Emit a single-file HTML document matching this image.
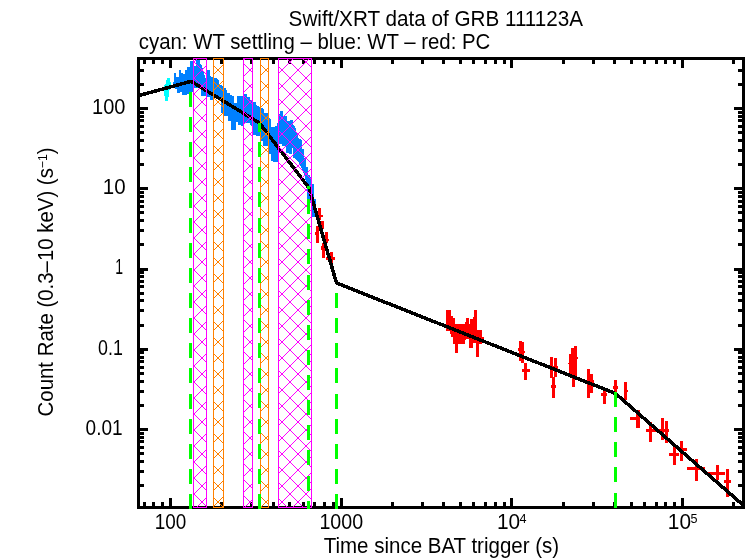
<!DOCTYPE html><html><head><meta charset="utf-8"><style>html,body{margin:0;padding:0;background:#fff;}svg{display:block;will-change:transform;}text{font-family:"Liberation Sans",sans-serif;fill:#000;}</style></head><body>
<svg width="746" height="558" viewBox="0 0 746 558">
<defs>
<pattern id="hm" patternUnits="userSpaceOnUse" x="0" y="0" width="16" height="16"><g fill="#ff00ff" shape-rendering="crispEdges">
<rect x="0" y="12" width="1" height="1"/>
<rect x="0" y="15" width="1" height="1"/>
<rect x="1" y="13" width="1" height="1"/>
<rect x="1" y="14" width="1" height="1"/>
<rect x="2" y="13" width="1" height="1"/>
<rect x="2" y="14" width="1" height="1"/>
<rect x="3" y="12" width="1" height="1"/>
<rect x="3" y="15" width="1" height="1"/>
<rect x="4" y="0" width="1" height="1"/>
<rect x="4" y="11" width="1" height="1"/>
<rect x="5" y="1" width="1" height="1"/>
<rect x="5" y="10" width="1" height="1"/>
<rect x="6" y="2" width="1" height="1"/>
<rect x="6" y="9" width="1" height="1"/>
<rect x="7" y="3" width="1" height="1"/>
<rect x="7" y="8" width="1" height="1"/>
<rect x="8" y="4" width="1" height="1"/>
<rect x="8" y="7" width="1" height="1"/>
<rect x="9" y="5" width="1" height="1"/>
<rect x="9" y="6" width="1" height="1"/>
<rect x="10" y="5" width="1" height="1"/>
<rect x="10" y="6" width="1" height="1"/>
<rect x="11" y="4" width="1" height="1"/>
<rect x="11" y="7" width="1" height="1"/>
<rect x="12" y="3" width="1" height="1"/>
<rect x="12" y="8" width="1" height="1"/>
<rect x="13" y="2" width="1" height="1"/>
<rect x="13" y="9" width="1" height="1"/>
<rect x="14" y="1" width="1" height="1"/>
<rect x="14" y="10" width="1" height="1"/>
<rect x="15" y="0" width="1" height="1"/>
<rect x="15" y="11" width="1" height="1"/>
</g></pattern>
<pattern id="ho" patternUnits="userSpaceOnUse" x="0" y="0" width="16" height="16"><g fill="#ff8000" shape-rendering="crispEdges">
<rect x="0" y="12" width="1" height="1"/>
<rect x="0" y="15" width="1" height="1"/>
<rect x="1" y="13" width="1" height="1"/>
<rect x="1" y="14" width="1" height="1"/>
<rect x="2" y="13" width="1" height="1"/>
<rect x="2" y="14" width="1" height="1"/>
<rect x="3" y="12" width="1" height="1"/>
<rect x="3" y="15" width="1" height="1"/>
<rect x="4" y="0" width="1" height="1"/>
<rect x="4" y="11" width="1" height="1"/>
<rect x="5" y="1" width="1" height="1"/>
<rect x="5" y="10" width="1" height="1"/>
<rect x="6" y="2" width="1" height="1"/>
<rect x="6" y="9" width="1" height="1"/>
<rect x="7" y="3" width="1" height="1"/>
<rect x="7" y="8" width="1" height="1"/>
<rect x="8" y="4" width="1" height="1"/>
<rect x="8" y="7" width="1" height="1"/>
<rect x="9" y="5" width="1" height="1"/>
<rect x="9" y="6" width="1" height="1"/>
<rect x="10" y="5" width="1" height="1"/>
<rect x="10" y="6" width="1" height="1"/>
<rect x="11" y="4" width="1" height="1"/>
<rect x="11" y="7" width="1" height="1"/>
<rect x="12" y="3" width="1" height="1"/>
<rect x="12" y="8" width="1" height="1"/>
<rect x="13" y="2" width="1" height="1"/>
<rect x="13" y="9" width="1" height="1"/>
<rect x="14" y="1" width="1" height="1"/>
<rect x="14" y="10" width="1" height="1"/>
<rect x="15" y="0" width="1" height="1"/>
<rect x="15" y="11" width="1" height="1"/>
</g></pattern>
</defs>
<rect width="746" height="558" fill="#fff"/>
<g shape-rendering="crispEdges" fill="#000">
<rect x="137" y="57" width="608" height="3"/>
<rect x="137" y="506" width="608" height="3"/>
<rect x="137" y="57" width="3" height="452"/>
<rect x="742" y="57" width="3" height="452"/>
<rect x="143" y="502" width="3" height="4"/>
<rect x="143" y="60" width="3" height="4"/>
<rect x="152" y="502" width="3" height="4"/>
<rect x="152" y="60" width="3" height="4"/>
<rect x="161" y="502" width="3" height="4"/>
<rect x="161" y="60" width="3" height="4"/>
<rect x="169" y="498" width="3" height="8"/>
<rect x="169" y="60" width="3" height="8"/>
<rect x="220" y="502" width="3" height="4"/>
<rect x="220" y="60" width="3" height="4"/>
<rect x="250" y="502" width="3" height="4"/>
<rect x="250" y="60" width="3" height="4"/>
<rect x="272" y="502" width="3" height="4"/>
<rect x="272" y="60" width="3" height="4"/>
<rect x="288" y="502" width="3" height="4"/>
<rect x="288" y="60" width="3" height="4"/>
<rect x="302" y="502" width="3" height="4"/>
<rect x="302" y="60" width="3" height="4"/>
<rect x="313" y="502" width="3" height="4"/>
<rect x="313" y="60" width="3" height="4"/>
<rect x="323" y="502" width="3" height="4"/>
<rect x="323" y="60" width="3" height="4"/>
<rect x="332" y="502" width="3" height="4"/>
<rect x="332" y="60" width="3" height="4"/>
<rect x="340" y="498" width="3" height="8"/>
<rect x="340" y="60" width="3" height="8"/>
<rect x="391" y="502" width="3" height="4"/>
<rect x="391" y="60" width="3" height="4"/>
<rect x="421" y="502" width="3" height="4"/>
<rect x="421" y="60" width="3" height="4"/>
<rect x="442" y="502" width="3" height="4"/>
<rect x="442" y="60" width="3" height="4"/>
<rect x="459" y="502" width="3" height="4"/>
<rect x="459" y="60" width="3" height="4"/>
<rect x="472" y="502" width="3" height="4"/>
<rect x="472" y="60" width="3" height="4"/>
<rect x="484" y="502" width="3" height="4"/>
<rect x="484" y="60" width="3" height="4"/>
<rect x="494" y="502" width="3" height="4"/>
<rect x="494" y="60" width="3" height="4"/>
<rect x="503" y="502" width="3" height="4"/>
<rect x="503" y="60" width="3" height="4"/>
<rect x="510" y="498" width="3" height="8"/>
<rect x="510" y="60" width="3" height="8"/>
<rect x="562" y="502" width="3" height="4"/>
<rect x="562" y="60" width="3" height="4"/>
<rect x="592" y="502" width="3" height="4"/>
<rect x="592" y="60" width="3" height="4"/>
<rect x="613" y="502" width="3" height="4"/>
<rect x="613" y="60" width="3" height="4"/>
<rect x="630" y="502" width="3" height="4"/>
<rect x="630" y="60" width="3" height="4"/>
<rect x="643" y="502" width="3" height="4"/>
<rect x="643" y="60" width="3" height="4"/>
<rect x="655" y="502" width="3" height="4"/>
<rect x="655" y="60" width="3" height="4"/>
<rect x="664" y="502" width="3" height="4"/>
<rect x="664" y="60" width="3" height="4"/>
<rect x="673" y="502" width="3" height="4"/>
<rect x="673" y="60" width="3" height="4"/>
<rect x="681" y="498" width="3" height="8"/>
<rect x="681" y="60" width="3" height="8"/>
<rect x="732" y="502" width="3" height="4"/>
<rect x="732" y="60" width="3" height="4"/>
<rect x="140" y="484" width="4" height="3"/>
<rect x="738" y="484" width="4" height="3"/>
<rect x="140" y="470" width="4" height="3"/>
<rect x="738" y="470" width="4" height="3"/>
<rect x="140" y="460" width="4" height="3"/>
<rect x="738" y="460" width="4" height="3"/>
<rect x="140" y="452" width="4" height="3"/>
<rect x="738" y="452" width="4" height="3"/>
<rect x="140" y="446" width="4" height="3"/>
<rect x="738" y="446" width="4" height="3"/>
<rect x="140" y="440" width="4" height="3"/>
<rect x="738" y="440" width="4" height="3"/>
<rect x="140" y="436" width="4" height="3"/>
<rect x="738" y="436" width="4" height="3"/>
<rect x="140" y="432" width="4" height="3"/>
<rect x="738" y="432" width="4" height="3"/>
<rect x="140" y="428" width="8" height="3"/>
<rect x="734" y="428" width="8" height="3"/>
<rect x="140" y="404" width="4" height="3"/>
<rect x="738" y="404" width="4" height="3"/>
<rect x="140" y="390" width="4" height="3"/>
<rect x="738" y="390" width="4" height="3"/>
<rect x="140" y="380" width="4" height="3"/>
<rect x="738" y="380" width="4" height="3"/>
<rect x="140" y="372" width="4" height="3"/>
<rect x="738" y="372" width="4" height="3"/>
<rect x="140" y="366" width="4" height="3"/>
<rect x="738" y="366" width="4" height="3"/>
<rect x="140" y="360" width="4" height="3"/>
<rect x="738" y="360" width="4" height="3"/>
<rect x="140" y="356" width="4" height="3"/>
<rect x="738" y="356" width="4" height="3"/>
<rect x="140" y="351" width="4" height="3"/>
<rect x="738" y="351" width="4" height="3"/>
<rect x="140" y="348" width="8" height="3"/>
<rect x="734" y="348" width="8" height="3"/>
<rect x="140" y="324" width="4" height="3"/>
<rect x="738" y="324" width="4" height="3"/>
<rect x="140" y="309" width="4" height="3"/>
<rect x="738" y="309" width="4" height="3"/>
<rect x="140" y="299" width="4" height="3"/>
<rect x="738" y="299" width="4" height="3"/>
<rect x="140" y="292" width="4" height="3"/>
<rect x="738" y="292" width="4" height="3"/>
<rect x="140" y="285" width="4" height="3"/>
<rect x="738" y="285" width="4" height="3"/>
<rect x="140" y="280" width="4" height="3"/>
<rect x="738" y="280" width="4" height="3"/>
<rect x="140" y="275" width="4" height="3"/>
<rect x="738" y="275" width="4" height="3"/>
<rect x="140" y="271" width="4" height="3"/>
<rect x="738" y="271" width="4" height="3"/>
<rect x="140" y="268" width="8" height="3"/>
<rect x="734" y="268" width="8" height="3"/>
<rect x="140" y="243" width="4" height="3"/>
<rect x="738" y="243" width="4" height="3"/>
<rect x="140" y="229" width="4" height="3"/>
<rect x="738" y="229" width="4" height="3"/>
<rect x="140" y="219" width="4" height="3"/>
<rect x="738" y="219" width="4" height="3"/>
<rect x="140" y="211" width="4" height="3"/>
<rect x="738" y="211" width="4" height="3"/>
<rect x="140" y="205" width="4" height="3"/>
<rect x="738" y="205" width="4" height="3"/>
<rect x="140" y="200" width="4" height="3"/>
<rect x="738" y="200" width="4" height="3"/>
<rect x="140" y="195" width="4" height="3"/>
<rect x="738" y="195" width="4" height="3"/>
<rect x="140" y="191" width="4" height="3"/>
<rect x="738" y="191" width="4" height="3"/>
<rect x="140" y="187" width="8" height="3"/>
<rect x="734" y="187" width="8" height="3"/>
<rect x="140" y="163" width="4" height="3"/>
<rect x="738" y="163" width="4" height="3"/>
<rect x="140" y="149" width="4" height="3"/>
<rect x="738" y="149" width="4" height="3"/>
<rect x="140" y="139" width="4" height="3"/>
<rect x="738" y="139" width="4" height="3"/>
<rect x="140" y="131" width="4" height="3"/>
<rect x="738" y="131" width="4" height="3"/>
<rect x="140" y="125" width="4" height="3"/>
<rect x="738" y="125" width="4" height="3"/>
<rect x="140" y="119" width="4" height="3"/>
<rect x="738" y="119" width="4" height="3"/>
<rect x="140" y="115" width="4" height="3"/>
<rect x="738" y="115" width="4" height="3"/>
<rect x="140" y="111" width="4" height="3"/>
<rect x="738" y="111" width="4" height="3"/>
<rect x="140" y="107" width="8" height="3"/>
<rect x="734" y="107" width="8" height="3"/>
<rect x="140" y="83" width="4" height="3"/>
<rect x="738" y="83" width="4" height="3"/>
<rect x="140" y="69" width="4" height="3"/>
<rect x="738" y="69" width="4" height="3"/>
</g>
<polygon fill="#0080ff" shape-rendering="crispEdges" points="173.2,84 173.2,82 174,82 174,73 176.3,73 176.3,77 179,77 179,70.2 181.4,70.2 181.4,72.6 183,72.6 183,74.1 184.6,74.1 184.6,70 187,70 187,67 190.3,67 190.3,61.2 194,61.2 194,66 196,66 196,60 200.3,60 200.3,64 201.9,65.7 205.7,78.6 206.7,79.9 207,70.2 210,70.2 210,76 212.3,77.2 216.3,78 219.2,80 219.2,84.5 222.7,85.8 222.7,88 225.5,88 225.5,90 227,90 227,93 230,93 230,94.5 233.5,96.5 233.5,103 236.5,103 236.5,96 242.5,96 242.5,93.5 247,93.5 247,97 250,97 250,100 253,100 253,102 256,102 256,105 260.6,107.3 264,109.3 264,112.5 268,113 268,116 271.2,120 271.2,127 274.5,127 274.5,125.5 277.2,125.5 277.2,122.5 278,122.5 280,110.8 282.7,110.8 282.7,115.5 286.8,116 286.8,121 290,121 290,119.5 292.8,119.5 292.8,123.5 295.5,127.5 295.5,133 298.2,133 298.2,138 301.6,140 302.3,148.8 303.8,149 303.8,157.6 306,157.6 306,166.5 308.2,166.5 308.2,175.3 310.4,175.3 311,184 314,184 314,198.8 316.3,198.8 316.3,217.2 311,217.2 310.4,200 306.7,198.8 306.7,184 303,171 298.2,161 292.5,157 292.5,148.4 291.5,148.4 291.5,153.8 286,153 286,145.7 282,145.7 282,144.4 278,144.4 278,162.3 275.2,162.3 271.2,161 271.2,154.4 268,154.4 268,146.4 262.6,146.4 262.6,141 260,141 260,135.8 256,135.8 256,134.5 252.7,134.5 252.7,128 250,124 249.6,123 243,123 243,126 241,126 241,125 238,125 238,122 236,122 236,130 231,130 231,121 228,121 228,116 222.7,115.6 222.7,113 221,113 221,100 213.5,96 213.5,99.6 210,99.6 210,96.7 206.5,96.7 206.5,96 200.9,96 200.9,88.5 196.7,88.3 193,88.3 193,92 189.3,92 189.3,93.9 187,93.9 187,95.4 182.2,95.4 182.2,91.5 180.3,91.5 180.3,93.1 177.1,93.1 177.1,89.1 174.7,89.1 174.7,84"/>
<polygon fill="#00ffff" shape-rendering="crispEdges" points="167,78 170,78 170,82 171,82 171,88 169,91 169,97 168,97 168,101 165,101 165,96 164,96 164,85 165,85 165,84 166,84 166,80 167,80"/>
<g fill="#ff0000" shape-rendering="crispEdges">
<rect x="318.0" y="208.0" width="3.0" height="12.0"/>
<rect x="321.0" y="215.0" width="2.0" height="2.0"/>
<rect x="321.0" y="220.7" width="3.0" height="8.3"/>
<rect x="316.0" y="226.0" width="3.0" height="17.0"/>
<rect x="315.0" y="232.0" width="4.4" height="3.0"/>
<rect x="325.0" y="232.0" width="3.0" height="11.3"/>
<rect x="324.8" y="239.0" width="4.2" height="2.4"/>
<rect x="322.0" y="242.7" width="3.0" height="15.0"/>
<rect x="321.0" y="246.4" width="4.0" height="3.2"/>
<rect x="329.5" y="252.0" width="3.0" height="14.5"/>
<rect x="326.3" y="257.0" width="8.7" height="3.0"/>
<rect x="446.0" y="310.0" width="5.0" height="20.6"/>
<rect x="447.9" y="309.9" width="2.9" height="6.1"/>
<rect x="450.8" y="315.8" width="2.0" height="20.8"/>
<rect x="452.8" y="317.8" width="2.5" height="18.8"/>
<rect x="450.0" y="330.0" width="2.3" height="4.0"/>
<rect x="452.8" y="324.0" width="5.2" height="18.0"/>
<rect x="453.3" y="342.0" width="2.0" height="2.4"/>
<rect x="455.3" y="324.0" width="2.7" height="29.3"/>
<rect x="458.2" y="324.2" width="6.8" height="19.3"/>
<rect x="464.9" y="322.3" width="1.5" height="17.2"/>
<rect x="466.4" y="318.3" width="2.5" height="20.2"/>
<rect x="468.9" y="324.0" width="1.0" height="23.9"/>
<rect x="469.9" y="319.3" width="2.9" height="28.6"/>
<rect x="472.8" y="316.8" width="1.5" height="25.7"/>
<rect x="474.3" y="309.9" width="3.0" height="32.6"/>
<rect x="475.8" y="330.0" width="2.9" height="26.8"/>
<rect x="478.7" y="330.1" width="3.5" height="14.3"/>
<rect x="482.2" y="336.5" width="1.8" height="2.0"/>
<rect x="519.0" y="340.8" width="2.6" height="20.2"/>
<rect x="521.2" y="341.7" width="2.7" height="21.1"/>
<rect x="518.0" y="348.0" width="1.0" height="2.7"/>
<rect x="523.4" y="350.7" width="1.4" height="1.8"/>
<rect x="523.9" y="363.2" width="3.1" height="16.6"/>
<rect x="522.0" y="369.0" width="7.7" height="2.7"/>
<rect x="550.0" y="357.0" width="3.0" height="20.6"/>
<rect x="554.3" y="358.4" width="3.0" height="18.7"/>
<rect x="551.8" y="377.1" width="3.5" height="20.7"/>
<rect x="550.8" y="385.0" width="5.5" height="3.0"/>
<rect x="550.0" y="366.0" width="8.0" height="2.7"/>
<rect x="574.3" y="346.1" width="2.7" height="30.4"/>
<rect x="570.8" y="347.9" width="3.5" height="28.6"/>
<rect x="569.0" y="353.8" width="1.8" height="22.7"/>
<rect x="571.8" y="376.0" width="3.0" height="10.8"/>
<rect x="568.0" y="363.0" width="1.0" height="1.0"/>
<rect x="577.0" y="357.0" width="1.3" height="1.5"/>
<rect x="587.0" y="368.8" width="3.0" height="29.4"/>
<rect x="590.0" y="373.8" width="3.2" height="18.8"/>
<rect x="586.0" y="380.0" width="8.0" height="2.5"/>
<rect x="602.6" y="387.6" width="3.1" height="16.3"/>
<rect x="600.7" y="393.2" width="6.3" height="2.5"/>
<rect x="614.0" y="379.8" width="3.0" height="12.2"/>
<rect x="613.0" y="386.3" width="5.0" height="2.5"/>
<rect x="624.0" y="382.0" width="3.0" height="17.5"/>
<rect x="623.9" y="389.5" width="4.4" height="2.5"/>
<rect x="629.5" y="417.0" width="10.7" height="3.2"/>
<rect x="636.4" y="410.0" width="3.2" height="17.7"/>
<rect x="645.6" y="429.0" width="11.4" height="3.0"/>
<rect x="649.0" y="422.0" width="3.0" height="20.0"/>
<rect x="657.6" y="429.0" width="11.3" height="3.0"/>
<rect x="661.0" y="417.5" width="3.0" height="22.0"/>
<rect x="665.0" y="420.7" width="3.0" height="21.9"/>
<rect x="668.9" y="453.0" width="10.0" height="3.0"/>
<rect x="673.0" y="445.8" width="3.0" height="18.8"/>
<rect x="677.6" y="448.0" width="9.4" height="3.0"/>
<rect x="680.0" y="440.8" width="3.0" height="20.0"/>
<rect x="687.0" y="467.0" width="17.5" height="3.0"/>
<rect x="695.0" y="459.4" width="3.0" height="21.4"/>
<rect x="706.3" y="472.0" width="18.2" height="3.0"/>
<rect x="716.0" y="465.0" width="3.0" height="15.0"/>
<rect x="724.0" y="480.0" width="6.8" height="3.0"/>
<rect x="726.0" y="468.9" width="3.0" height="27.6"/>
</g>
<polyline fill="none" stroke="#000" stroke-width="3.5" stroke-linejoin="bevel" shape-rendering="crispEdges" points="138,95.8 191,81.3 259.5,123 309,188 336.5,283 615.5,393.5 743,505"/>
<rect x="193" y="58" width="14" height="450" fill="url(#hm)" shape-rendering="crispEdges"/>
<rect x="193.5" y="58.5" width="13" height="449" fill="none" stroke="#ff00ff" stroke-width="1" shape-rendering="crispEdges"/>
<rect x="213" y="58" width="11" height="450" fill="url(#ho)" shape-rendering="crispEdges"/>
<rect x="213.5" y="58.5" width="10" height="449" fill="none" stroke="#ff8000" stroke-width="1" shape-rendering="crispEdges"/>
<rect x="243" y="58" width="10" height="450" fill="url(#hm)" shape-rendering="crispEdges"/>
<rect x="243.5" y="58.5" width="9" height="449" fill="none" stroke="#ff00ff" stroke-width="1" shape-rendering="crispEdges"/>
<rect x="260" y="58" width="9" height="450" fill="url(#ho)" shape-rendering="crispEdges"/>
<rect x="260.5" y="58.5" width="8" height="449" fill="none" stroke="#ff8000" stroke-width="1" shape-rendering="crispEdges"/>
<rect x="278" y="58" width="34" height="450" fill="url(#hm)" shape-rendering="crispEdges"/>
<rect x="278.5" y="58.5" width="33" height="449" fill="none" stroke="#ff00ff" stroke-width="1" shape-rendering="crispEdges"/>
<g shape-rendering="crispEdges">
<rect x="189" y="92" width="3" height="15.099999999999994" fill="#00ff00"/>
<rect x="189" y="117.125" width="3" height="15.099999999999994" fill="#00ff00"/>
<rect x="189" y="142.25" width="3" height="15.099999999999994" fill="#00ff00"/>
<rect x="189" y="167.375" width="3" height="15.099999999999994" fill="#00ff00"/>
<rect x="189" y="192.5" width="3" height="15.099999999999994" fill="#00ff00"/>
<rect x="189" y="217.625" width="3" height="15.099999999999994" fill="#00ff00"/>
<rect x="189" y="242.75" width="3" height="15.100000000000023" fill="#00ff00"/>
<rect x="189" y="267.875" width="3" height="15.100000000000023" fill="#00ff00"/>
<rect x="189" y="293.0" width="3" height="15.100000000000023" fill="#00ff00"/>
<rect x="189" y="318.125" width="3" height="15.100000000000023" fill="#00ff00"/>
<rect x="189" y="343.25" width="3" height="15.100000000000023" fill="#00ff00"/>
<rect x="189" y="368.375" width="3" height="15.100000000000023" fill="#00ff00"/>
<rect x="189" y="393.5" width="3" height="15.100000000000023" fill="#00ff00"/>
<rect x="189" y="418.625" width="3" height="15.100000000000023" fill="#00ff00"/>
<rect x="189" y="443.75" width="3" height="15.100000000000023" fill="#00ff00"/>
<rect x="189" y="468.875" width="3" height="15.100000000000023" fill="#00ff00"/>
<rect x="189" y="494.0" width="3" height="15.0" fill="#00ff00"/>
<rect x="258" y="123" width="3" height="9.099999999999994" fill="#00ff00"/>
<rect x="258" y="142.125" width="3" height="15.099999999999994" fill="#00ff00"/>
<rect x="258" y="167.25" width="3" height="15.099999999999994" fill="#00ff00"/>
<rect x="258" y="192.375" width="3" height="15.099999999999994" fill="#00ff00"/>
<rect x="258" y="217.5" width="3" height="15.099999999999994" fill="#00ff00"/>
<rect x="258" y="242.625" width="3" height="15.100000000000023" fill="#00ff00"/>
<rect x="258" y="267.75" width="3" height="15.100000000000023" fill="#00ff00"/>
<rect x="258" y="292.875" width="3" height="15.100000000000023" fill="#00ff00"/>
<rect x="258" y="318.0" width="3" height="15.100000000000023" fill="#00ff00"/>
<rect x="258" y="343.125" width="3" height="15.100000000000023" fill="#00ff00"/>
<rect x="258" y="368.25" width="3" height="15.100000000000023" fill="#00ff00"/>
<rect x="258" y="393.375" width="3" height="15.100000000000023" fill="#00ff00"/>
<rect x="258" y="418.5" width="3" height="15.100000000000023" fill="#00ff00"/>
<rect x="258" y="443.625" width="3" height="15.100000000000023" fill="#00ff00"/>
<rect x="258" y="468.75" width="3" height="15.100000000000023" fill="#00ff00"/>
<rect x="258" y="493.875" width="3" height="15.100000000000023" fill="#00ff00"/>
<rect x="307" y="185.6" width="3" height="3.5" fill="#00ff00"/>
<rect x="307" y="199.125" width="3" height="15.099999999999994" fill="#00ff00"/>
<rect x="307" y="224.25" width="3" height="15.099999999999994" fill="#00ff00"/>
<rect x="307" y="249.375" width="3" height="15.100000000000023" fill="#00ff00"/>
<rect x="307" y="274.5" width="3" height="15.100000000000023" fill="#00ff00"/>
<rect x="307" y="299.625" width="3" height="15.100000000000023" fill="#00ff00"/>
<rect x="307" y="324.75" width="3" height="15.100000000000023" fill="#00ff00"/>
<rect x="307" y="349.875" width="3" height="15.100000000000023" fill="#00ff00"/>
<rect x="307" y="375.0" width="3" height="15.100000000000023" fill="#00ff00"/>
<rect x="307" y="400.125" width="3" height="15.100000000000023" fill="#00ff00"/>
<rect x="307" y="425.25" width="3" height="15.100000000000023" fill="#00ff00"/>
<rect x="307" y="450.375" width="3" height="15.100000000000023" fill="#00ff00"/>
<rect x="307" y="475.5" width="3" height="15.100000000000023" fill="#00ff00"/>
<rect x="307" y="500.625" width="3" height="8.375" fill="#00ff00"/>
<rect x="335" y="293" width="3" height="15.100000000000023" fill="#00ff00"/>
<rect x="335" y="318.125" width="3" height="15.100000000000023" fill="#00ff00"/>
<rect x="335" y="343.25" width="3" height="15.100000000000023" fill="#00ff00"/>
<rect x="335" y="368.375" width="3" height="15.100000000000023" fill="#00ff00"/>
<rect x="335" y="393.5" width="3" height="15.100000000000023" fill="#00ff00"/>
<rect x="335" y="418.625" width="3" height="15.100000000000023" fill="#00ff00"/>
<rect x="335" y="443.75" width="3" height="15.100000000000023" fill="#00ff00"/>
<rect x="335" y="468.875" width="3" height="15.100000000000023" fill="#00ff00"/>
<rect x="335" y="494.0" width="3" height="15.0" fill="#00ff00"/>
<rect x="614" y="392" width="3" height="15.100000000000023" fill="#00ff00"/>
<rect x="614" y="417.125" width="3" height="15.100000000000023" fill="#00ff00"/>
<rect x="614" y="442.25" width="3" height="15.100000000000023" fill="#00ff00"/>
<rect x="614" y="467.375" width="3" height="15.100000000000023" fill="#00ff00"/>
<rect x="614" y="492.5" width="3" height="15.100000000000023" fill="#00ff00"/>
</g>
<text id="title" x="288.60" y="26.00" font-size="21.2" textLength="294.47" lengthAdjust="spacingAndGlyphs">Swift/XRT data of GRB 111123A</text>
<text id="subtitle" x="138.80" y="49.00" font-size="21.2" textLength="351.55" lengthAdjust="spacingAndGlyphs">cyan: WT settling – blue: WT – red: PC</text>
<text id="xtitle" x="323.70" y="552.50" font-size="21.2" textLength="235.46" lengthAdjust="spacingAndGlyphs">Time since BAT trigger (s)</text>
<text id="ytitle" transform="translate(53.00,416.40) rotate(-90)" font-size="21.2" textLength="268.86" lengthAdjust="spacingAndGlyphs">Count Rate (0.3–10 keV) (s<tspan dy="-6" font-size="12.6">−1</tspan><tspan dy="6">)</tspan></text>
<text id="y100" x="92.00" y="114.00" font-size="21.3" textLength="33.39" lengthAdjust="spacingAndGlyphs">100</text>
<text id="y10" x="102.80" y="194.00" font-size="21.3" textLength="22.83" lengthAdjust="spacingAndGlyphs">10</text>
<text id="y1" x="115.30" y="274.00" font-size="21.3" textLength="7.81" lengthAdjust="spacingAndGlyphs">1</text>
<text id="y0.1" x="98.10" y="355.00" font-size="21.3" textLength="24.78" lengthAdjust="spacingAndGlyphs">0.1</text>
<text id="y0.01" x="85.60" y="435.00" font-size="21.3" textLength="37.03" lengthAdjust="spacingAndGlyphs">0.01</text>
<text id="x100" x="154.80" y="529.00" font-size="21.3" textLength="31.57" lengthAdjust="spacingAndGlyphs">100</text>
<text id="x1000" x="319.40" y="529.00" font-size="21.3" textLength="43.75" lengthAdjust="spacingAndGlyphs">1000</text>
<text id="x1e4m" x="497.00" y="529.00" font-size="21.3" textLength="23.20" lengthAdjust="spacingAndGlyphs">10</text>
<text id="x1e4s" x="519.50" y="523.00" font-size="12.6">4</text>
<text id="x1e5m" x="667.80" y="529.00" font-size="21.3" textLength="23.20" lengthAdjust="spacingAndGlyphs">10</text>
<text id="x1e5s" x="690.50" y="523.00" font-size="12.6">5</text>
</svg></body></html>
